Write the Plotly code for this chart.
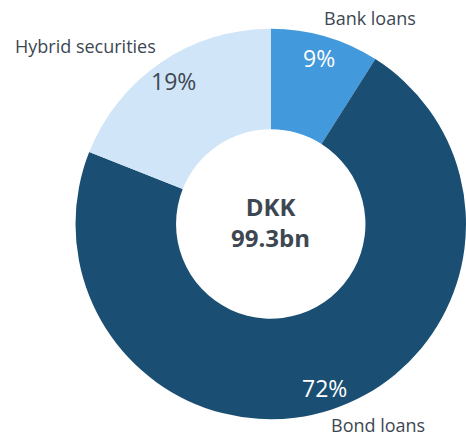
import math
import plotly.graph_objects as go

labels = ["Bank loans", "Bond loans", "Hybrid securities"]
values = [9, 72, 19]
pct_text = ["9%", "72%", "19%"]
colors = ["#4299DB", "#1A4F73", "#D1E5F8"]
pct_colors = ["#FFFFFF", "#FFFFFF", "#3D4752"]
center_lines = ["DKK", "99.3bn"]

W, H = 466, 437
dom_x = [0.162, 1.0]
dom_y = [0.039, 0.936]
FONT = "Open Sans, Lato, sans-serif"
TXT = "#3D4752"

fig = go.Figure(go.Pie(
    labels=labels, values=values, hole=0.485, sort=False,
    direction="clockwise", rotation=0,
    marker=dict(colors=colors, line=dict(width=0)),
    textinfo="none", hoverinfo="label+percent", showlegend=False,
    domain=dict(x=dom_x, y=dom_y),
))

# pie geometry in pixels (for label placement)
px0, px1 = dom_x[0] * W, dom_x[1] * W
py0, py1 = (1 - dom_y[1]) * H, (1 - dom_y[0]) * H
R = min(px1 - px0, py1 - py0) / 2
cx, cy = (px0 + px1) / 2, (py0 + py1) / 2

def A(x, y, text, size, color, bold=False):
    return dict(x=x / W, y=1 - y / H, xref="paper", yref="paper",
                xanchor="center", yanchor="middle",
                text=("<b>%s</b>" % text) if bold else text, showarrow=False,
                font=dict(family=FONT, size=size, color=color))

ann = []
total = sum(values)
cum = 0
for v, t, c in zip(values, pct_text, pct_colors):
    mid = (cum + v / 2) / total * 2 * math.pi
    cum += v
    r = R * 0.885
    ann.append(A(cx + r * math.sin(mid), cy - r * math.cos(mid), t, 23, c))

ann.append(A(cx, cy - 2, "<br>".join("<b>%s</b>" % s for s in center_lines), 24, TXT))

outer = [("Bank loans", 370, 18), ("Hybrid securities", 85, 46), ("Bond loans", 378, 425)]
for t, x, y in outer:
    ann.append(A(x, y, t, 18, TXT))

fig.update_layout(
    width=W, height=H, margin=dict(l=0, r=0, t=0, b=0),
    paper_bgcolor="white", plot_bgcolor="white",
    annotations=ann,
)
fig.write_html("out.html", config={"displayModeBar": False},
               post_script="document.body.style.margin='0';")
